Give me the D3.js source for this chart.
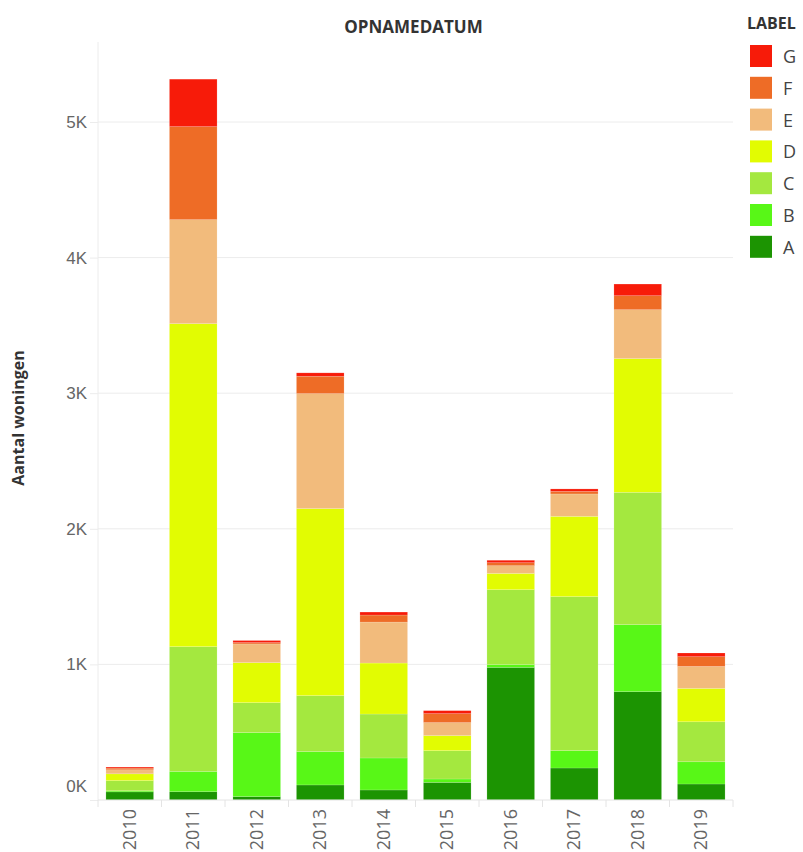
<!DOCTYPE html>
<html>
<head>
<meta charset="utf-8">
<script src="https://cdn.jsdelivr.net/npm/d3@7"></script>
<style>
  body { margin: 0; background: #fff; }
  svg { font-family: 'Open Sans', sans-serif; }
</style>
</head>
<body>
<div id="chart"></div>
<script>
const years  = ['2010', '2011', '2012', '2013', '2014', '2015', '2016', '2017', '2018', '2019']
const labels = ['A', 'B', 'C', 'D', 'E', 'F', 'G']
const colors = ['#1c9402', '#58f717', '#a4e83f', '#e2fc02', '#f2bb7c', '#ee6c26', '#f71b09']

// aantal woningen per label, per jaar
const valA = [60, 61, 25, 111, 74, 130, 978, 236, 799, 118]
const valB = [8, 150, 472, 246, 236, 25, 20, 128, 494, 164]
const valC = [75, 920, 221, 413, 324, 209, 553, 1136, 976, 295]
const valD = [50, 2382, 295, 1379, 376, 111, 120, 592, 986, 246]
const valE = [30, 767, 138, 848, 302, 96, 57, 165, 361, 162]
const valF = [12, 686, 10, 128, 52, 66, 22, 19, 103, 72]
const valG = [8, 350, 15, 25, 22, 22, 18, 18, 86, 27]

const yTicks = [0, 1000, 2000, 3000, 4000, 5000]

const series = { A: valA, B: valB, C: valC, D: valD, E: valE, F: valF, G: valG }
const table = years.map((yr, i) => {
  const row = { year: yr }
  labels.forEach(l => { row[l] = series[l][i] })
  return row
})

const W = 803, H = 852
const MARGIN = { top: 42, right: 70, bottom: 52, left: 98 }
const innerW = W - MARGIN.left - MARGIN.right
const innerH = H - MARGIN.top - MARGIN.bottom

const svg = d3.select('#chart').append('svg')
  .attr('width', W).attr('height', H)

const g = svg.append('g').attr('transform', `translate(${MARGIN.left},${MARGIN.top})`)

const x = d3.scaleBand().domain(years).range([0, innerW]).paddingInner(0.25).paddingOuter(0.125)
const y = d3.scaleLinear().domain([0, 5590]).range([innerH, 0])
const color = d3.scaleOrdinal().domain(labels).range(colors)

// gridlines
g.append('g').selectAll('line').data(yTicks.filter(d => d > 0)).join('line')
  .attr('x1', 0).attr('x2', innerW)
  .attr('y1', d => y(d)).attr('y2', d => y(d))
  .attr('stroke', '#ececec')
g.append('line').attr('x1', 0).attr('x2', 0).attr('y1', 0).attr('y2', innerH)
  .attr('stroke', '#ececec')

// y axis
const gy = g.append('g')
  .call(d3.axisLeft(y).tickValues(yTicks).tickFormat(d => `${d / 1000}K`).tickSize(8).tickPadding(3))
gy.select('.domain').remove()
gy.selectAll('.tick line').attr('stroke', '#ececec')
gy.selectAll('.tick text')
  .attr('fill', '#666').style('font-size', '17px')
  .attr('dy', d => d === 0 ? '-0.5em' : '0.32em')

// stacked bars
const stack = d3.stack().keys(labels)(table)
g.append('g').selectAll('g').data(stack).join('g')
  .attr('fill', d => color(d.key))
  .selectAll('rect').data(d => d).join('rect')
  .attr('x', d => x(d.data.year))
  .attr('y', d => y(d[1]))
  .attr('width', x.bandwidth())
  .attr('height', d => y(d[0]) - y(d[1]))
  .attr('stroke', '#fff').attr('stroke-opacity', 0.25).attr('stroke-width', 0.6)

// x axis
const gx = g.append('g').attr('transform', `translate(0,${innerH})`)
gx.append('line').attr('x1', 0).attr('x2', innerW).attr('stroke', '#e4e4e4')
gx.selectAll('line.sep').data(d3.range(years.length + 1)).join('line')
  .attr('class', 'sep')
  .attr('x1', i => i * x.step()).attr('x2', i => i * x.step())
  .attr('y1', 0).attr('y2', 7)
  .attr('stroke', '#e4e4e4')
gx.selectAll('text').data(years).join('text')
  .attr('transform', d => `translate(${x(d) + x.bandwidth() / 2 + 6},9) rotate(-90)`)
  .attr('text-anchor', 'end')
  .attr('fill', '#666')
  .style('font-size', '18px')
  .text(d => d)

// titles
svg.append('text')
  .attr('x', MARGIN.left + innerW / 2 - 2).attr('y', 33)
  .attr('text-anchor', 'middle')
  .attr('fill', '#333').style('font-size', '17px').style('font-weight', 'bold')
  .text('OPNAMEDATUM')

svg.append('text')
  .attr('transform', `translate(24,${MARGIN.top + innerH / 2 - 3}) rotate(-90)`)
  .attr('text-anchor', 'middle')
  .attr('fill', '#333').style('font-size', '16px').style('font-weight', 'bold')
  .text('Aantal woningen')

// legend
const legend = svg.append('g').attr('transform', 'translate(747,0)')
legend.append('text').attr('x', 0).attr('y', 29)
  .attr('fill', '#333').style('font-size', '16px').style('font-weight', 'bold')
  .text('LABEL')
const items = legend.selectAll('g.item').data(labels.slice().reverse()).join('g')
  .attr('class', 'item')
  .attr('transform', (d, i) => `translate(3,${45 + i * 31.8})`)
items.append('rect').attr('width', 22).attr('height', 22).attr('fill', d => color(d))
items.append('text').attr('x', 33).attr('y', 18)
  .attr('fill', '#444').style('font-size', '18px')
  .text(d => d)
</script>
</body>
</html>
